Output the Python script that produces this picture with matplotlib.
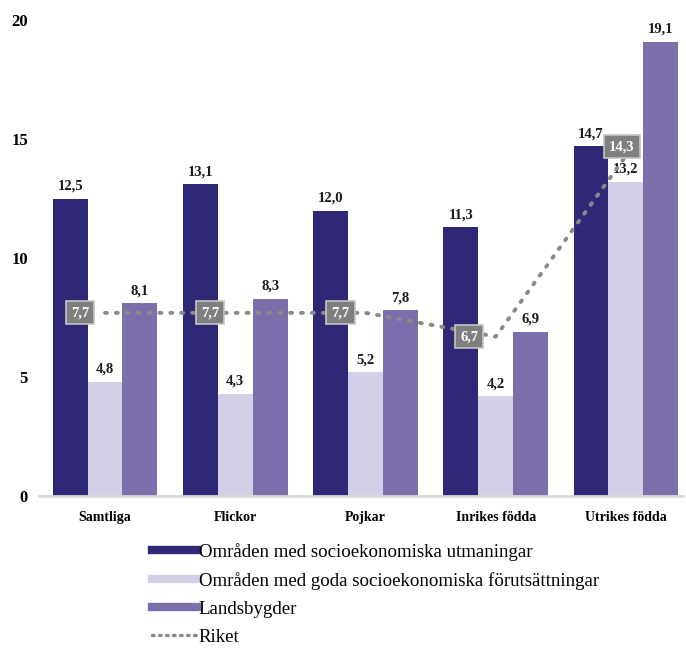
import matplotlib
matplotlib.use("Agg")
import matplotlib.pyplot as plt
import numpy as np
from matplotlib.lines import Line2D

categories = ["Samtliga", "Flickor", "Pojkar", "Inrikes födda", "Utrikes födda"]
utmaningar = [12.5, 13.1, 12.0, 11.3, 14.7]
goda = [4.8, 4.3, 5.2, 4.2, 13.2]
landsbygder = [8.1, 8.3, 7.8, 6.9, 19.1]
riket = [7.7, 7.7, 7.7, 6.7, 14.3]
series_names = ["Områden med socioekonomiska utmaningar",
                "Områden med goda socioekonomiska förutsättningar",
                "Landsbygder", "Riket"]
yticks = [0, 5, 10, 15, 20]

c_dark = "#2f2876"
c_light = "#d3cfe7"
c_purple = "#7c6eab"
c_line = "#8a8a8a"

plt.rcParams['font.family'] = ['Liberation Serif', 'DejaVu Serif']

fig = plt.figure(figsize=(6.86, 6.51), dpi=100)
ax = fig.add_axes([0.057, 0.238, 0.939, 0.731])

x = np.arange(len(categories))
w = 0.268
for i, (vals, col) in enumerate([(utmaningar, c_dark), (goda, c_light), (landsbygder, c_purple)]):
    ax.bar(x + (i - 1) * w, vals, width=w, color=col, zorder=2)
    for xi, v in zip(x + (i - 1) * w, vals):
        ax.annotate(f"{v:.1f}".replace(".", ","), (xi, v), xytext=(0, 9),
                    textcoords="offset points", ha="center", va="center",
                    fontsize=10.5, fontweight="bold", color="#1a1a1a", zorder=3)

ax.plot(x, riket, color=c_line, lw=2.8, linestyle=(0, (0.5, 2.3)),
        dash_capstyle="round", zorder=4)
offsets = [(-18, 0), (-18, 0), (-18, 0), (-19, 0), (-3, 6.5)]
for xi, v, off in zip(x, riket, offsets):
    ax.annotate(f"{v:.1f}".replace(".", ","), (xi, v), xytext=off,
                textcoords="offset points", ha="center", va="center",
                fontsize=10.5, fontweight="bold", color="white", zorder=5,
                bbox=dict(boxstyle="square,pad=0.35", fc="#7f7f7f", ec="#c4c4c4", lw=1.2))

ax.set_xlim(-0.506, 4.44)
ax.set_ylim(0, 20)
ax.set_yticks(yticks)
ax.set_yticklabels([str(t) for t in yticks], fontsize=12, fontweight="bold")
ax.set_xticks(x)
ax.set_xticklabels(categories, fontsize=10, fontweight="bold")
ax.tick_params(axis="y", length=0, pad=8)
ax.tick_params(axis="x", length=0, pad=11)
for s in ["top", "right", "left"]:
    ax.spines[s].set_visible(False)
ax.spines["bottom"].set_color("#d9d9d9")
ax.spines["bottom"].set_linewidth(2)

handles = [Line2D([0], [0], color=c_dark, lw=6),
           Line2D([0], [0], color=c_light, lw=6),
           Line2D([0], [0], color=c_purple, lw=6),
           Line2D([0], [0], color=c_line, lw=2.4, linestyle=(0, (0.5, 1.6)), dash_capstyle="round")]
fig.legend(handles, series_names, loc="upper left", bbox_to_anchor=(0.222, 0.166),
           frameon=False, fontsize=13.6, handlelength=2.35, handletextpad=0.1,
           labelspacing=0.58, borderaxespad=0, borderpad=0)

fig.savefig("out.png", dpi=100)
